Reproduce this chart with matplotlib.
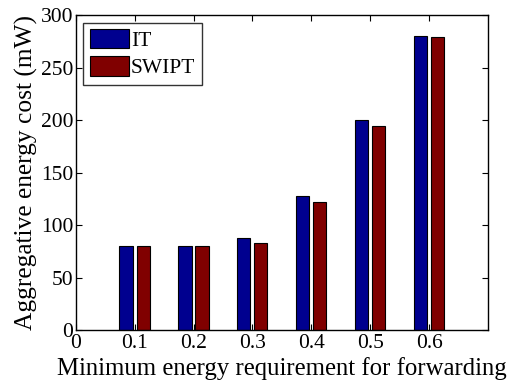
import numpy as np
import matplotlib
matplotlib.use("Agg")
import matplotlib.pyplot as plt

plt.rcParams['font.family'] = ['Liberation Serif', 'DejaVu Serif']

# energy requirement levels and aggregate cost (mW)
levels = [0.1, 0.2, 0.3, 0.4, 0.5, 0.6]
it_cost = [80, 80, 88, 127.5, 200, 280]
swipt_cost = [80, 80, 82.5, 122, 194, 279]

fig = plt.figure(figsize=(5.13, 3.86), dpi=100)
ax = fig.add_axes([0.148, 0.145, 0.803, 0.816])

x = np.array(levels)
w = 0.0225
ax.bar(x - 0.0148, it_cost, width=w, color='#00008f', edgecolor='black',
       linewidth=0.8, label='IT')
ax.bar(x + 0.0142, swipt_cost, width=w, color='#800000', edgecolor='black',
       linewidth=0.8, label='SWIPT')

ax.set_xlim(0, 0.7)
ax.set_ylim(0, 300)
ax.set_xticks([0] + levels)
ax.set_xticklabels(['0'] + [f'{v:.1f}' for v in levels])
ax.set_yticks(np.arange(0, 301, 50))
ax.tick_params(direction='in', top=True, right=True, labelsize=15.5, length=4,
               width=0.8)
ax.tick_params(axis='y', pad=2)
ax.tick_params(axis='x', pad=3)
for s in ax.spines.values():
    s.set_linewidth(1.0)

ax.set_xlabel('Minimum energy requirement for forwarding', fontsize=17.8, labelpad=3)
ax.set_ylabel('Aggregative energy cost (mW)', fontsize=18.3, labelpad=2)

leg = ax.legend(loc='upper left', fontsize=15.5, frameon=True, fancybox=False,
                edgecolor='black', handlelength=1.8, handleheight=1.0,
                borderpad=0.3, labelspacing=0.25, handletextpad=0.1,
                borderaxespad=0.35)
leg.get_frame().set_linewidth(1.0)

fig.savefig('out.png', dpi=100)
